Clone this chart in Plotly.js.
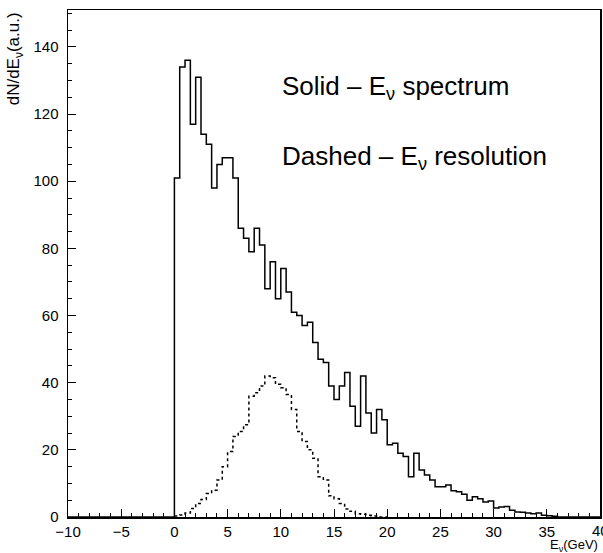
<!DOCTYPE html>
<html>
<head>
<meta charset="utf-8">
<script src="https://cdn.plot.ly/plotly-3.0.1.min.js"></script>
<style>
html,body{margin:0;padding:0;background:#fff;}
#chart{width:603px;height:553px;}
</style>
</head>
<body>
<div id="chart"></div>
<script>
// Histogram bins: 0.5 GeV wide, starting at 0 GeV
var binStart = 0;
var binWidth = 0.5;

// Solid: E_nu spectrum (bin contents, a.u.)
var spectrum = [101, 134, 136, 117, 131, 114, 111, 98, 105, 107,
                107, 101, 86, 83, 79, 86, 81, 68, 76, 65,
                74, 67, 61, 60, 57, 58, 52, 47, 46, 39,
                35, 39, 43, 33, 27, 42, 31, 25, 32, 29,
                21.5, 22, 19, 18, 12, 19, 14, 12.5, 11, 9,
                9, 9.5, 7.8, 7.5, 6.8, 5, 6, 5.4, 4.5, 4.8,
                2.7, 3, 3.1, 2, 1.5, 1.4, 1.2, 1, 1.2, 0.5,
                0.4, 0.2, 0, 0, 0, 0, 0, 0, 0, 0];

// Dashed: E_nu resolution (bin contents, a.u.)
var resolution = [0.3, 0.6, 1.2, 2.5, 4, 5.2, 7, 8, 11, 15,
                  19.5, 24, 25.5, 27.5, 36, 37, 39, 42, 41.5, 39.5,
                  38.5, 36.5, 32, 25.5, 22.5, 20, 17.5, 12, 11, 6.3,
                  5.4, 4, 2.4, 1.7, 1, 0.8, 0.5, 0.3, 0, 0];

var xTickVals = [-10, -5, 0, 5, 10, 15, 20, 25, 30, 35];
var xLastTick = 40;
var yTickVals = [0, 20, 40, 60, 80, 100, 120, 140];

function stepXY(values, leftPad) {
  var xs = [], ys = [];
  if (leftPad !== null) { xs.push(leftPad); ys.push(0); }
  for (var i = 0; i < values.length; i++) {
    xs.push(binStart + i * binWidth);
    ys.push(values[i]);
  }
  xs.push(binStart + values.length * binWidth);
  ys.push(values[values.length - 1]);
  return {x: xs, y: ys};
}

var s = stepXY(spectrum, -10);
var r = stepXY(resolution, null);

var traces = [
  {x: s.x, y: s.y, type: 'scatter', mode: 'lines',
   line: {shape: 'hv', color: '#000', width: 1.5}, hoverinfo: 'skip'},
  {x: r.x, y: r.y, type: 'scatter', mode: 'lines',
   line: {shape: 'hv', color: '#000', width: 1.5, dash: '3px,3px'}, hoverinfo: 'skip'}
];

var fontFam = 'Liberation Sans, Arial, sans-serif';
function lab(v){ return v < 0 ? '\u2212' + (-v) : String(v); }

var layout = {
  width: 603, height: 553,
  margin: {l: 68, r: 3, t: 10, b: 36},
  paper_bgcolor: '#fff', plot_bgcolor: '#fff',
  showlegend: false,
  xaxis: {
    range: [-10, 40], tickvals: xTickVals, ticktext: xTickVals.map(lab),
    ticks: 'inside', ticklen: 8, tickwidth: 1, tickcolor: '#000',
    minor: {dtick: 1, ticks: 'inside', ticklen: 4, tickwidth: 1, tickcolor: '#000'},
    showline: true, linecolor: '#000', linewidth: 1.5, mirror: true,
    showgrid: false, zeroline: false,
    tickfont: {family: fontFam, size: 15, color: '#000'}
  },
  yaxis: {
    range: [0, 151], tickvals: yTickVals,
    ticks: 'inside', ticklen: 8, tickwidth: 1, tickcolor: '#000',
    minor: {dtick: 5, ticks: 'inside', ticklen: 4, tickwidth: 1, tickcolor: '#000'},
    showline: true, linecolor: '#000', linewidth: 1.5, mirror: true,
    showgrid: false, zeroline: false, ticklabelstandoff: 5,
    tickfont: {family: fontFam, size: 15, color: '#000'}
  },
  annotations: [
    {x: xLastTick, y: -0.027, xref: 'x', yref: 'paper', xanchor: 'center', yanchor: 'middle', showarrow: false,
     text: lab(xLastTick), font: {family: fontFam, size: 15, color: '#000'}},
    {x: 9.9, y: 127.8, xref: 'x', yref: 'y', xanchor: 'left', yanchor: 'middle', showarrow: false,
     text: 'Solid \u2013 E<sub>\u03bd</sub> spectrum', font: {family: fontFam, size: 26, color: '#000'}},
    {x: 9.9, y: 107, xref: 'x', yref: 'y', xanchor: 'left', yanchor: 'middle', showarrow: false,
     text: 'Dashed \u2013 E<sub>\u03bd</sub> resolution', font: {family: fontFam, size: 26, color: '#000'}},
    {x: 1.0, y: -0.056, xref: 'paper', yref: 'paper', xanchor: 'right', yanchor: 'middle', showarrow: false,
     text: 'E<sub>\u03bd</sub>(GeV)', font: {family: fontFam, size: 13, color: '#000'}},
    {x: -0.1, y: 1.0, xref: 'paper', yref: 'paper', xanchor: 'center', yanchor: 'top', showarrow: false,
     textangle: -90, text: 'dN/dE<sub>\u03bd</sub>(a.u.)', font: {family: fontFam, size: 17, color: '#000'}}
  ]
};

Plotly.newPlot('chart', traces, layout, {staticPlot: true, displayModeBar: false});
</script>
</body>
</html>
